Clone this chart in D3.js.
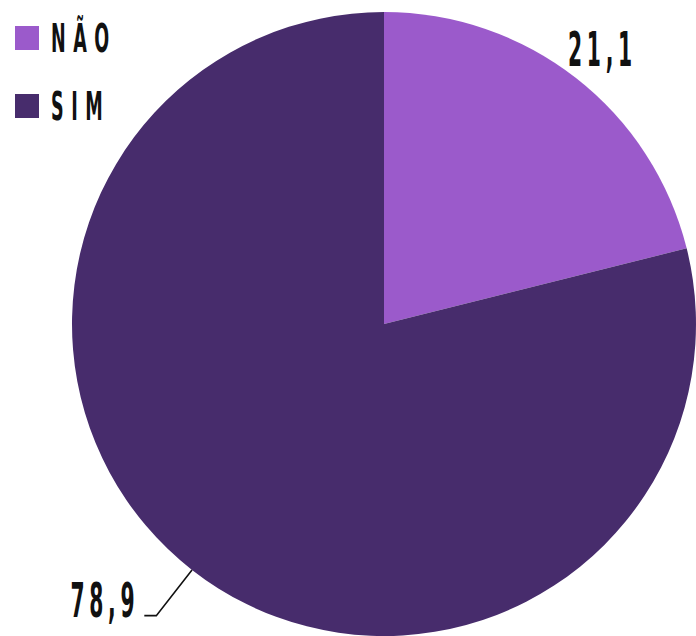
<!DOCTYPE html>
<html><head><meta charset="utf-8">
<script src="https://cdn.jsdelivr.net/npm/d3@7"></script>
<style>
html,body{margin:0;padding:0;background:#fff;}
text{font-family:"DejaVu Sans Condensed","DejaVu Sans",sans-serif;font-weight:bold;fill:#111;}
</style></head>
<body><svg id="c" width="696" height="636"></svg>
<script>
const categories = ["NÃO", "SIM"];
const values = [21.1, 78.9];
const labels = ["21,1", "78,9"];
const colors = ["#9b5acb", "#472c6c"];

const svg = d3.select("#c");
const cx = 384, cy = 324, R = 312;
const g = svg.append("g").attr("transform", `translate(${cx},${cy})`);

const pie = d3.pie().sort(null).value(d => d)(values);
const arc = d3.arc().innerRadius(0).outerRadius(R);

g.selectAll("path").data(pie).join("path")
  .attr("d", arc)
  .attr("fill", (d, i) => colors[i]);

const mid = d => (d.startAngle + d.endAngle) / 2;
const pt = (a, r) => [Math.sin(a) * r, -Math.cos(a) * r];
const sx = 0.47;

// label 0: no leader
{
  const d = pie[0];
  const [x, y] = pt(mid(d), 355);
  g.append("text").attr("x", x).attr("y", y + 22)
    .attr("text-anchor", "middle")
    .attr("font-size", 48).attr("letter-spacing", 10)
    .attr("transform", `translate(${x},0) scale(${sx},1) translate(${-x},0)`)
    .text(labels[0]);
}
// label 1: with leader
{
  const d = pie[1];
  const a = mid(d);
  const p0 = pt(a, R), p1 = pt(a, 370);
  const p2 = [p1[0] - 12, p1[1]];
  g.append("polyline").attr("points", [p0, p1, p2].map(p => p.join(",")).join(" "))
    .attr("fill", "none").attr("stroke", "#111").attr("stroke-width", 1.6);
  const tx = p2[0] - 5, ty = p2[1] + 1;
  g.append("text").attr("x", tx).attr("y", ty)
    .attr("text-anchor", "end")
    .attr("font-size", 48).attr("letter-spacing", 10)
    .attr("transform", `translate(${tx},0) scale(${sx},1) translate(${-tx},0)`)
    .text(labels[1]);
}

// legend
const leg = svg.append("g");
categories.forEach((c, i) => {
  const y = 26 + i * 68;
  leg.append("rect").attr("x", 15).attr("y", y).attr("width", 24).attr("height", 24).attr("fill", colors[i]);
  const tx = 51, ty = y + 26;
  leg.append("text").attr("x", tx).attr("y", ty)
    .attr("font-size", 39).attr("letter-spacing", 15)
    .attr("transform", `translate(${tx},0) scale(0.5,1) translate(${-tx},0)`)
    .text(c);
});
</script></body></html>
